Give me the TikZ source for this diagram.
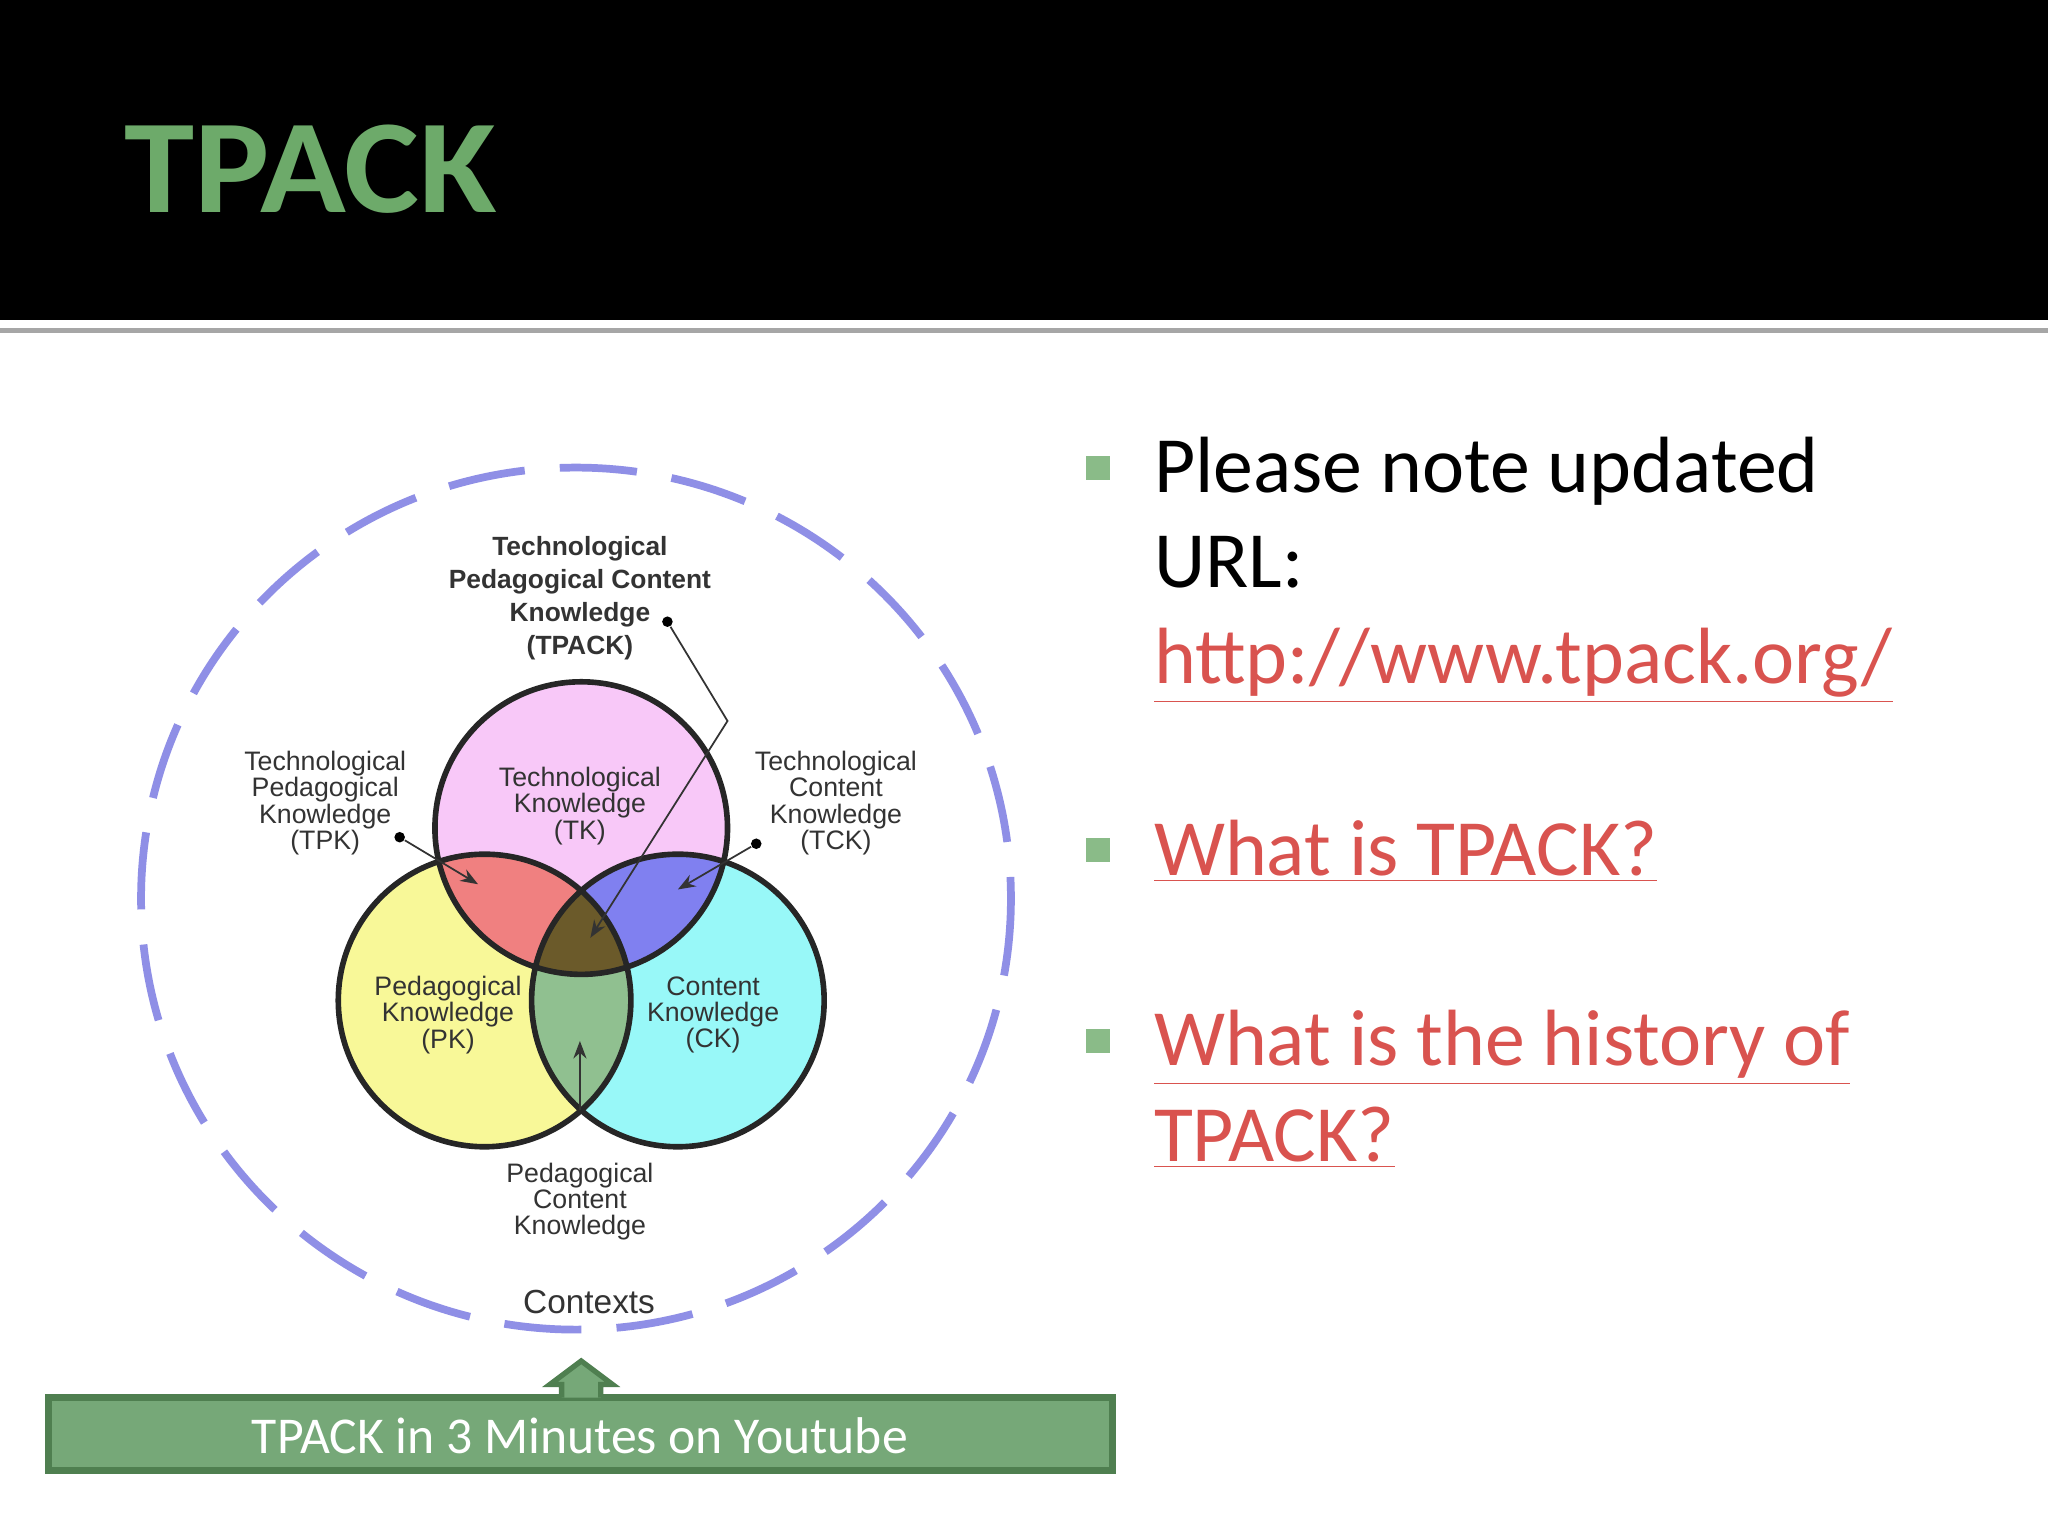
\documentclass[tikz,border=0pt]{standalone}
\usepackage{fontspec}
\setmainfont{Carlito}
\newfontfamily\arialf{Liberation Sans}
\usetikzlibrary{arrows.meta}
\definecolor{tgreen}{HTML}{6DAA6A}
\definecolor{lav}{HTML}{8F8FE6}
\definecolor{lnk}{HTML}{D9534F}
\definecolor{bgreen}{HTML}{76A878}
\definecolor{bdark}{HTML}{4F7F50}
\definecolor{cpink}{HTML}{F8C8F8}
\definecolor{cyel}{HTML}{F8F898}
\definecolor{ccyan}{HTML}{98F8F8}
\definecolor{cred}{HTML}{F08080}
\definecolor{cblue}{HTML}{8080F0}
\definecolor{cgrn}{HTML}{90C090}
\definecolor{colive}{HTML}{6B5A2A}
\tikzset{
 vlab/.style={font=\arialf\fontsize{7.6}{7.5}\selectfont, align=center, text=black!80, inner sep=0},
 bullet/.style={fill=tgreen!80, minimum size=0.24cm, inner sep=0},
 btxt/.style={font=\fontsize{22.7}{26}\selectfont, anchor=base west, inner sep=0},
 ptr/.style={black!80, line width=0.5pt},
 dotp/.style={circle, fill=black, inner sep=0, minimum size=3pt},
}
\begin{document}
\begin{tikzpicture}[x=0.01306cm,y=-0.01306cm]
\useasboundingbox (0,0) rectangle (1568,1176);
\fill[white] (0,0) rectangle (1568,1176);
\fill[black] (0,0) rectangle (1568,245);
\draw[gray!70, line width=1.5pt] (0,253) -- (1568,253);
\node[font=\bfseries\fontsize{38}{40}\selectfont, text=tgreen, anchor=base west, inner sep=0, xscale=1.06] (title) at (95,163) {TPACK};
% contexts
\draw[lav, line width=2.2pt, dash pattern=on 22pt off 10pt] (441,688) ellipse [x radius=333, y radius=330];
% circles
\coordinate (tk) at (445,634); \coordinate (pk) at (371,766); \coordinate (ck) at (519,766);
\def\R{112}
\fill[cpink] (tk) circle (\R);
\fill[cyel] (pk) circle (\R);
\fill[ccyan] (ck) circle (\R);
\begin{scope}\clip (tk) circle (\R); \fill[cred] (pk) circle (\R); \end{scope}
\begin{scope}\clip (tk) circle (\R); \fill[cblue] (ck) circle (\R); \end{scope}
\begin{scope}\clip (pk) circle (\R); \fill[cgrn] (ck) circle (\R); \end{scope}
\begin{scope}\clip (pk) circle (\R); \clip (ck) circle (\R); \fill[colive] (tk) circle (\R); \end{scope}
\draw[black!85, line width=1.6pt] (tk) circle (\R) (pk) circle (\R) (ck) circle (\R);
% labels
\node[vlab] (ltk) at (444,617) {Technological\\Knowledge\\(TK)};
\node[vlab] (lpk) at (343,777) {Pedagogical\\Knowledge\\(PK)};
\node[vlab] (lck) at (546,777) {Content\\Knowledge\\(CK)};
\node[vlab, font=\arialf\bfseries\fontsize{7.5}{9.4}\selectfont] (ltp) at (444,458) {Technological\\Pedagogical Content\\Knowledge\\(TPACK)};
\node[vlab] (ltpk) at (249,615) {Technological\\Pedagogical\\Knowledge\\(TPK)};
\node[vlab] (ltck) at (640,615) {Technological\\Content\\Knowledge\\(TCK)};
\node[vlab] (lpck) at (444,920) {Pedagogical\\Content\\Knowledge};
\node[vlab, font=\arialf\fontsize{9.5}{11}\selectfont] (lctx) at (451,997) {Contexts};
% pointers
\node[dotp] (d1) at (511,476) {}; \coordinate (b1) at (557,552); \coordinate (e1) at (452,718);
\draw[ptr, -{Stealth[length=5pt]}] (d1) -- (b1) -- (e1);
\node[dotp] (d2) at (306,641) {}; \coordinate (e2) at (366,677);
\draw[ptr, -{Stealth[length=5pt]}] (d2) -- (e2);
\node[dotp] (d3) at (579,646) {}; \coordinate (e3) at (519,681);
\draw[ptr, -{Stealth[length=5pt]}] (d3) -- (e3);
\coordinate (s4) at (444,850); \coordinate (e4) at (444,797);
\draw[ptr, -{Stealth[length=5pt]}] (s4) -- (e4);
% banner
\draw[bdark, fill=bgreen, line width=2pt] (37,1070) rectangle (852,1126);
\node[font=\fontsize{14.7}{17}\selectfont, text=white] (btext) at (444,1099) {TPACK in 3 Minutes on Youtube};
\draw[bdark, fill=bgreen, line width=1.5pt] (430,1070) -- (430,1060) -- (421,1060) -- (445,1042) -- (469,1060) -- (460,1060) -- (460,1070);
% bullets
\node[bullet] (b1s) at (841,358) {};
\node[bullet] (b2s) at (841,651) {};
\node[bullet] (b3s) at (841,797) {};
\node[btxt] (t1) at (883,377) {Please note updated};
\node[btxt] (t2) at (883,450) {URL:};
\node[btxt, text=lnk] (t3) at (883,523) {\underline{http://www.tpack.org/}};
\node[btxt, text=lnk] (t4) at (883,670) {\underline{What is TPACK?}};
\node[btxt, text=lnk] (t5) at (883,816) {\underline{What is the history of}};
\node[btxt, text=lnk] (t6) at (883,889) {\underline{TPACK?}};
\end{tikzpicture}
\end{document}
